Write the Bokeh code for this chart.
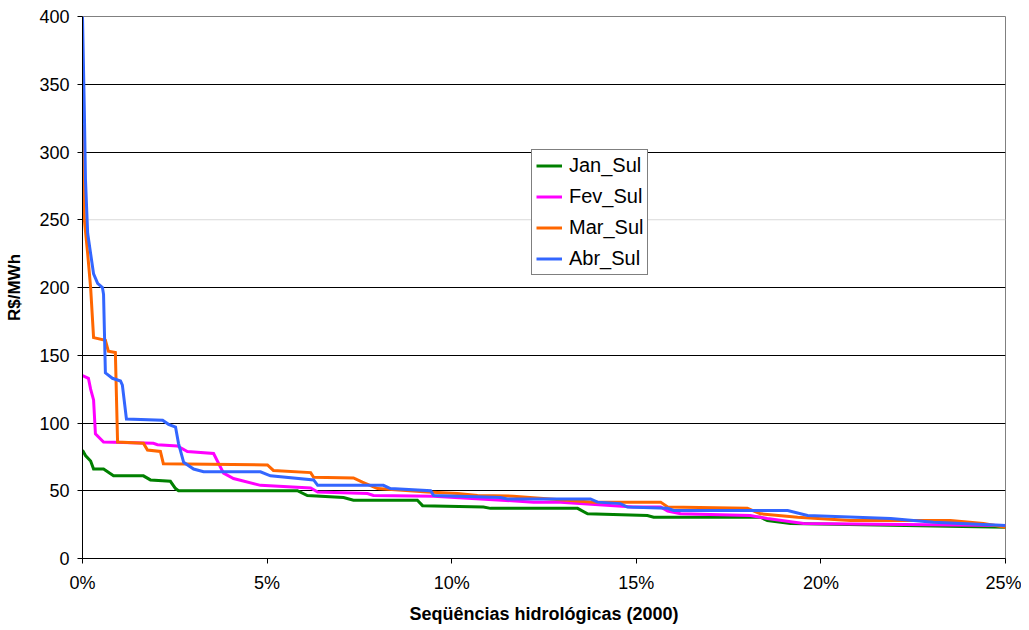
from bokeh.plotting import figure
from bokeh.models import Range1d, FixedTicker, PrintfTickFormatter, Span, Legend, LegendItem
from bokeh.embed import file_html
from bokeh.resources import INLINE

# x in % of hydrological sequences, y in R$/MWh
jan_x = [0, 0.08, 0.22, 0.30, 0.57, 0.84, 1.65, 1.84, 2.38, 2.52, 2.60, 5.82, 6.09, 7.07, 7.34, 9.07, 9.21, 10.86, 11.05, 13.41, 13.68, 15.30, 15.47, 18.36, 18.55, 19.18, 25]
jan_y = [80, 76, 72, 66, 66, 61, 61, 58, 57, 51.6, 50, 50, 46.5, 45, 43, 43, 39, 38, 37, 37, 33, 31.7, 30.5, 30.5, 28, 25.8, 23]

fev_x = [0, 0.16, 0.22, 0.30, 0.35, 0.57, 1.92, 2.03, 2.57, 2.84, 3.55, 3.82, 4.09, 4.82, 6.18, 6.37, 7.72, 7.88, 9.51, 12.22, 12.95, 14.92, 15.66, 15.85, 16.20, 18.09, 18.55, 19.53, 25]
fev_y = [135, 133, 125, 117, 92, 86, 85, 84, 83, 79, 77.5, 63, 59, 54, 52, 49, 48, 46.5, 46, 41.6, 41.6, 38, 38, 35, 33, 31.7, 29.5, 25.8, 24.4]

mar_x = [0, 0.05, 0.14, 0.22, 0.30, 0.62, 0.70, 0.89, 0.95, 1.65, 1.76, 2.11, 2.19, 5.01, 5.17, 6.18, 6.26, 7.34, 7.58, 7.99, 9.34, 10.16, 10.70, 11.67, 13.84, 15.66, 15.85, 18.01, 18.36, 19.37, 20.80, 23.51, 24.40, 25]
mar_y = [320, 250, 225, 200, 163, 161, 153, 152, 86, 85, 80, 79, 70, 69, 65, 63.4, 60, 59.5, 56.3, 51.6, 49, 48, 46.5, 46, 41.6, 41.6, 38, 37, 33, 30.5, 28, 28, 25.8, 23]

abr_x = [0, 0.05, 0.08, 0.14, 0.22, 0.30, 0.41, 0.54, 0.57, 0.62, 0.81, 1.03, 1.08, 1.19, 2.17, 2.33, 2.52, 2.60, 2.74, 3.01, 3.28, 4.82, 5.09, 6.26, 6.37, 8.15, 8.34, 9.43, 9.51, 11.32, 11.51, 13.76, 13.95, 14.57, 14.76, 15.85, 16.01, 19.10, 19.64, 21.89, 23.05, 25]
abr_y = [400, 330, 280, 240, 225, 210, 203, 200, 195, 137, 133, 131, 128, 103, 102, 99, 97, 85, 71, 66, 64, 64, 61, 58, 54, 54, 51.6, 50, 46.5, 45, 44, 44, 41.6, 40.5, 38, 37, 35.4, 35.4, 31.7, 29.5, 26.8, 24.4]

series_names = ["Jan_Sul", "Fev_Sul", "Mar_Sul", "Abr_Sul"]
series_colors = ["#008000", "#FF00FF", "#FF6600", "#3366FF"]
x_ticks = [0, 5, 10, 15, 20, 25]
y_ticks = [0, 50, 100, 150, 200, 250, 300, 350, 400]

FONT = "Liberation Sans"

p = figure(width=1021, height=626, output_backend="svg", toolbar_location=None,
           x_range=Range1d(0, 25), y_range=Range1d(0, 400),
           min_border_left=82, min_border_top=16, min_border_bottom=68, min_border_right=16)

p.outline_line_color = "#808080"
p.outline_line_width = 1

# grid
p.xgrid.visible = False
p.ygrid.ticker = FixedTicker(ticks=[t for t in y_ticks if t != 250])
p.ygrid.grid_line_color = "black"
p.ygrid.grid_line_width = 1
p.add_layout(Span(location=250, dimension="width", line_color="#d9d9d9", line_width=1, level="underlay"))

# axes
p.xaxis.ticker = FixedTicker(ticks=x_ticks)
p.xaxis.formatter = PrintfTickFormatter(format="%d%%")
p.yaxis.ticker = FixedTicker(ticks=y_ticks)
for ax in (p.xaxis[0], p.yaxis[0]):
    ax.axis_line_color = "black"
    ax.major_tick_line_color = "black"
    ax.major_tick_out = 5
    ax.major_tick_in = 0
    ax.minor_tick_line_color = None
    ax.major_label_text_font = FONT
    ax.major_label_text_font_size = "18px"
    ax.major_label_text_color = "black"
    ax.axis_label_text_font = FONT
    ax.axis_label_text_font_style = "bold"
    ax.axis_label_text_color = "black"

p.xaxis.axis_label = "Seqüências hidrológicas (2000)"
p.xaxis.axis_label_text_font_size = "18px"
p.xaxis.major_label_standoff = 9
p.xaxis.axis_label_standoff = 8
p.yaxis.axis_label = "R$/MWh"
p.yaxis.axis_label_text_font_size = "17px"
p.yaxis.major_label_standoff = 8
p.yaxis.axis_label_standoff = 12

data = [(jan_x, jan_y), (fev_x, fev_y), (mar_x, mar_y), (abr_x, abr_y)]
items = []
for (xs, ys), name, col in zip(data, series_names, series_colors):
    r = p.line(xs, ys, line_color=col, line_width=3, line_join="miter")
    items.append(LegendItem(label=name, renderers=[r]))

legend = Legend(items=items, location=(449, 283))
legend.border_line_color = "black"
legend.border_line_width = 1
legend.background_fill_color = "white"
legend.background_fill_alpha = 1
legend.label_text_font = FONT
legend.label_text_font_size = "20px"
legend.label_text_color = "black"
legend.glyph_width = 26
legend.glyph_height = 21
legend.label_height = 21
legend.label_standoff = 7
legend.spacing = 8
legend.padding = 4
legend.margin = 0
p.add_layout(legend, "center")

open("out.html", "w").write(file_html(p, INLINE))
